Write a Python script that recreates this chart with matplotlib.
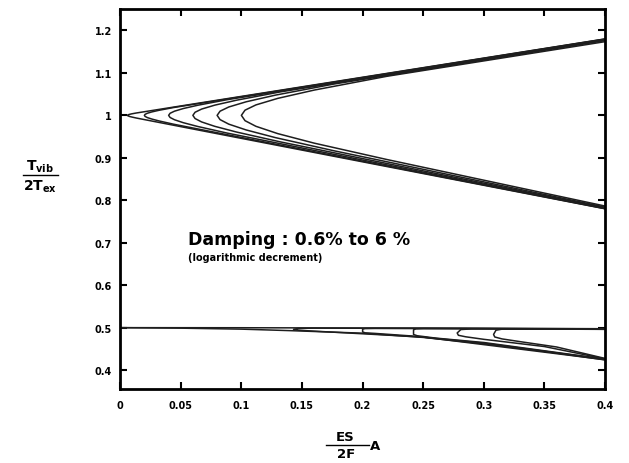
import matplotlib
matplotlib.use("Agg")
import matplotlib.pyplot as plt
from matplotlib.lines import Line2D

plt.rcParams['font.family'] = 'DejaVu Sans'
plt.rcParams['font.weight'] = 'bold'

# ---- data ----
# first order region (around 1): C-shaped boundaries, one per damping value
# each path: upper branch from x=0.4 back to the nose, then lower branch out to 0.4
c1_x = [0.4, 0.0132, 0.0096, 0.0078, 0.00672, 0.00618, 0.006, 0.00618, 0.00672, 0.0078, 0.0096, 0.0132, 0.4]
c1_y = [1.1800, 1.0055, 1.0036, 1.0024, 1.0015, 1.0007, 1.0, 0.9993, 0.9985, 0.9974, 0.9961, 0.9938, 0.7800]
c2_x = [0.4, 0.044, 0.032, 0.026, 0.0224, 0.0206, 0.02, 0.0206, 0.0224, 0.026, 0.032, 0.044, 0.4]
c2_y = [1.1798, 1.0184, 1.0119, 1.0080, 1.0049, 1.0024, 1.0, 0.9975, 0.9948, 0.9914, 0.9869, 0.9792, 0.7802]
c3_x = [0.4, 0.088, 0.064, 0.052, 0.0448, 0.0412, 0.04, 0.0412, 0.0448, 0.052, 0.064, 0.088, 0.4]
c3_y = [1.1790, 1.0368, 1.0238, 1.0160, 1.0098, 1.0049, 1.0, 0.9950, 0.9897, 0.9828, 0.9738, 0.9584, 0.7810]
c4_x = [0.4, 0.132, 0.096, 0.078, 0.0672, 0.0618, 0.06, 0.0618, 0.0672, 0.078, 0.096, 0.132, 0.4]
c4_y = [1.1777, 1.0552, 1.0357, 1.0240, 1.0148, 1.0073, 1.0, 0.9925, 0.9845, 0.9742, 0.9607, 0.9376, 0.7823]
c5_x = [0.4, 0.176, 0.128, 0.104, 0.0896, 0.0824, 0.08, 0.0824, 0.0896, 0.104, 0.128, 0.176, 0.4]
c5_y = [1.1760, 1.0736, 1.0476, 1.0320, 1.0197, 1.0098, 1.0, 0.9900, 0.9793, 0.9656, 0.9476, 0.9168, 0.7840]
c6_x = [0.4, 0.22, 0.16, 0.13, 0.112, 0.103, 0.1, 0.103, 0.112, 0.13, 0.16, 0.22, 0.4]
c6_y = [1.1736, 1.0920, 1.0595, 1.0400, 1.0246, 1.0122, 1.0, 0.9875, 0.9742, 0.9570, 0.9346, 0.8960, 0.7864]

# second order region (around 0.5)
outer_up_x = [0, 0.1, 0.2, 0.3, 0.4]
outer_up_y = [0.5, 0.4998, 0.4992, 0.4985, 0.4975]
outer_lo_x = [0, 0.05, 0.1, 0.14, 0.2, 0.25, 0.3, 0.35, 0.4]
outer_lo_y = [0.5, 0.4988, 0.4965, 0.493, 0.487, 0.477, 0.462, 0.444, 0.424]
s1_x = [0.4, 0.25, 0.16, 0.147, 0.143, 0.147, 0.16, 0.25, 0.4]
s1_y = [0.4972, 0.4984, 0.4988, 0.4982, 0.4962, 0.4940, 0.4918, 0.4778, 0.4245]
s2_x = [0.4, 0.3, 0.21, 0.202, 0.2, 0.2, 0.202, 0.21, 0.24, 0.3, 0.4]
s2_y = [0.4968, 0.4978, 0.4982, 0.4978, 0.4965, 0.490, 0.4878, 0.4865, 0.4805, 0.4635, 0.4255]
s3_x = [0.4, 0.3, 0.25, 0.244, 0.242, 0.242, 0.245, 0.26, 0.3, 0.4]
s3_y = [0.4965, 0.4975, 0.4978, 0.4972, 0.495, 0.484, 0.481, 0.4755, 0.465, 0.426]
s4_x = [0.4, 0.32, 0.29, 0.281, 0.278, 0.279, 0.285, 0.3, 0.35, 0.4]
s4_y = [0.4962, 0.4972, 0.4972, 0.4955, 0.4875, 0.482, 0.4785, 0.4725, 0.4555, 0.4265]
s5_x = [0.4, 0.34, 0.315, 0.31, 0.308, 0.309, 0.315, 0.33, 0.36, 0.4]
s5_y = [0.496, 0.4968, 0.4965, 0.494, 0.484, 0.478, 0.4735, 0.467, 0.4545, 0.4275]

xticks = [0, 0.05, 0.1, 0.15, 0.2, 0.25, 0.3, 0.35, 0.4]
xticklabels = ['0', '0.05', '0.1', '0.15', '0.2', '0.25', '0.3', '0.35', '0.4']
yticks = [0.4, 0.5, 0.6, 0.7, 0.8, 0.9, 1.0, 1.1, 1.2]
yticklabels = ['0.4', '0.5', '0.6', '0.7', '0.8', '0.9', '1', '1.1', '1.2']

fig = plt.figure(figsize=(6.29, 4.64), dpi=100)
ax = fig.add_axes([0.191, 0.159, 0.771, 0.819])

lc = '#1e1e1e'
for xs, ys in [(c1_x, c1_y), (c2_x, c2_y), (c3_x, c3_y), (c4_x, c4_y), (c5_x, c5_y), (c6_x, c6_y)]:
    ax.plot(xs, ys, color=lc, lw=1.1)
for xs, ys in [(outer_up_x, outer_up_y), (outer_lo_x, outer_lo_y), (s1_x, s1_y), (s2_x, s2_y),
               (s3_x, s3_y), (s4_x, s4_y), (s5_x, s5_y)]:
    ax.plot(xs, ys, color=lc, lw=1.1)

ax.set_xlim(0, 0.4)
ax.set_ylim(0.355, 1.25)
ax.set_xticks(xticks)
ax.set_xticklabels(xticklabels)
ax.set_yticks(yticks)
ax.set_yticklabels(yticklabels)
ax.tick_params(direction='in', length=5, width=1.5, labelsize=7, top=True, right=True)
ax.tick_params(axis='x', pad=8)
ax.tick_params(axis='y', pad=6)
for t in ax.get_xticklabels() + ax.get_yticklabels():
    t.set_fontweight('bold')
for s in ax.spines.values():
    s.set_linewidth(2)

fig.text(188 / 629, 1 - 240 / 464, 'Damping : 0.6% to 6 %', fontsize=12.5, fontweight='bold', va='center')
fig.text(188 / 629, 1 - 258 / 464, '(logarithmic decrement)', fontsize=7, fontweight='bold', va='center')

# y label as a fraction
fig.text(40 / 629, 1 - 167 / 464, r'$\mathbf{T_{vib}}$', ha='center', va='center', fontsize=10)
fig.text(40 / 629, 1 - 187 / 464, r'$\mathbf{2T_{ex}}$', ha='center', va='center', fontsize=10)
fig.add_artist(Line2D([23 / 629, 58 / 629], [1 - 176 / 464, 1 - 176 / 464], color='black', lw=1))

# x label as a fraction
fig.text(345 / 629, 1 - 438 / 464, 'ES', ha='center', va='center', fontsize=9.5, fontweight='bold')
fig.text(346 / 629, 1 - 455 / 464, '2F', ha='center', va='center', fontsize=9.5, fontweight='bold')
fig.add_artist(Line2D([326 / 629, 369 / 629], [1 - 446 / 464, 1 - 446 / 464], color='black', lw=1))
fig.text(375 / 629, 1 - 447 / 464, 'A', ha='center', va='center', fontsize=9.5, fontweight='bold')

fig.savefig('out.png', dpi=100)
